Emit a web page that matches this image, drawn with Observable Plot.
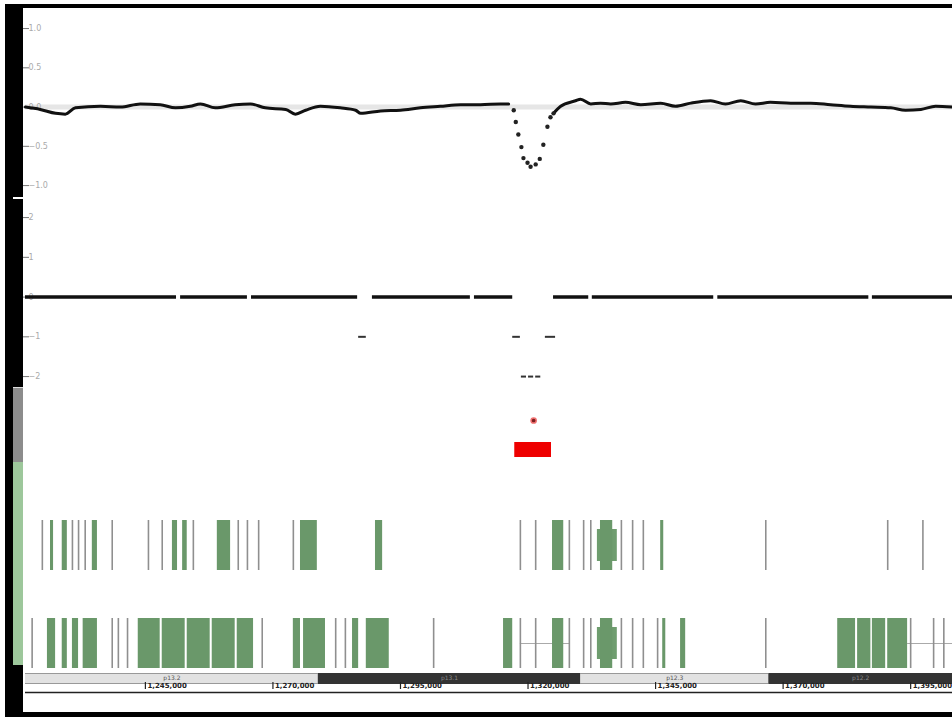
<!DOCTYPE html>
<html><head><meta charset="utf-8">
<script src="https://cdn.jsdelivr.net/npm/d3@7"></script>
<script src="https://cdn.jsdelivr.net/npm/@observablehq/plot@0.6"></script>
<style>
body{margin:0;background:#fff;}
#root{position:relative;width:952px;height:719px;overflow:hidden;background:#fff;font-family:"DejaVu Sans",sans-serif;}
#root svg{position:absolute;left:0;}
.deco{position:absolute;}
</style></head><body><div id="root"></div>
<script>
// ---- genomic window (kb) and axis ticks ----
const xDomain = [1221.5, 1403.2];
const axisTicks = [1245, 1270, 1295, 1320, 1345, 1370, 1395];

// ---- panel 1: log2 ratio (smoothed) ----
const ratioTicks = [1, 0.5, 0, -0.5, -1];
const ratioLeftPos = [1221.5,1224.4,1227.4,1229.3,1231.3,1236.2,1240.1,1244.0,1247.9,1250.9,1253.8,1255.8,1258.7,1262.6,1265.6,1268.5,1272.5,1274.4,1276.4,1279.3,1283.2,1286.2,1287.2,1291.1,1295.0,1298.9,1302.8,1306.8,1310.7,1314.6,1316.2];
const ratioLeftVal = [0,-0.03,-0.08,-0.09,-0.01,0.01,0,0.04,0.03,-0.01,0.01,0.04,-0.01,0.03,0.04,-0.01,-0.03,-0.09,-0.04,0.01,-0.01,-0.04,-0.08,-0.05,-0.04,-0.01,0.01,0.03,0.03,0.04,0.04];
const dipPos = [1317.2,1317.6,1318.1,1318.7,1319.1,1319.9,1320.5,1321.5,1322.3,1323.0,1323.8,1324.4,1325.0];
const dipVal = [-0.04,-0.19,-0.35,-0.51,-0.65,-0.71,-0.76,-0.73,-0.66,-0.48,-0.25,-0.13,-0.08];
const ratioRightPos = [1325.0,1326.4,1329.3,1330.3,1332.3,1334.2,1336.2,1339.1,1342.1,1346.0,1348.9,1351.9,1355.8,1358.7,1361.7,1364.6,1367.5,1371.5,1375.4,1379.3,1383.2,1387.2,1391.1,1394.0,1397.0,1399.9,1403.2];
const ratioRightVal = [-0.08,0.01,0.08,0.10,0.04,0.05,0.04,0.06,0.03,0.05,0.01,0.05,0.08,0.04,0.08,0.04,0.06,0.05,0.05,0.03,0.01,0,-0.01,-0.04,-0.03,0.01,0];

// ---- panel 2: segmented copy-number calls ----
const segTicks = [2, 1, 0, -1, -2];
const segStart = [1221.5,1251.9,1265.8,1289.5,1309.5,1325.0,1332.6,1357.2,1387.5, 1286.8,1317.0,1323.4, 1318.7,1320.1,1321.5];
const segEnd   = [1251.1,1265.0,1286.6,1308.7,1317.0,1331.9,1356.4,1386.8,1403.2, 1288.3,1318.5,1325.4, 1319.7,1321.1,1322.5];
const segLevel = [0,0,0,0,0,0,0,0,0, -1,-1,-1, -2,-2,-2];

// ---- panel 3: aberration call ----
const outlierPos = [1321.1];
const callStart = [1317.4];
const callEnd = [1324.6];

// ---- panel 4: gene models ----
const exonTrack = ["t1","t1","t1","t1","t1","t1","t1","t1","t1","t1","t1","t1",
  "t2","t2","t2","t2","t2","t2","t2","t2","t2","t2","t2","t2","t2","t2","t2","t2","t2","t2","t2","t2","t2","t2","t2"];
const exonStart = [1226.4,1228.7,1234.6,1250.3,1252.3,1259.1,1275.4,1290.1,1324.8,1333.6,1334.2,1346.0,
  1225.8,1228.7,1230.7,1232.8,1243.6,1248.3,1253.2,1258.1,1263.0,1274.0,1276.0,1285.6,1288.3,1315.2,1324.8,1333.6,1334.2,1346.4,1349.9,1380.7,1384.6,1387.5,1390.5];
const exonEnd = [1227.0,1229.7,1235.6,1251.3,1253.2,1261.7,1278.7,1291.5,1327.0,1337.5,1336.6,1346.6,
  1227.4,1229.7,1231.9,1235.6,1247.9,1252.8,1257.7,1262.6,1266.2,1275.4,1280.3,1286.8,1292.8,1317.0,1327.0,1337.5,1336.6,1347.0,1350.9,1384.2,1387.2,1390.1,1394.4];
const exonKind = ["cds","cds","cds","cds","cds","cds","cds","cds","cds","utr","cds","cds",
  "cds","cds","cds","cds","cds","cds","cds","cds","cds","cds","cds","cds","cds","cds","cds","utr","cds","cds","cds","cds","cds","cds","cds"];
const lineTrack1 = [1224.8,1230.7,1231.9,1233.2,1238.5,1245.6,1248.3,1254.4,1263.2,1265.0,1267.2,1274.0,1318.5,1321.5,1328.1,1330.9,1332.3,1338.3,1340.5,1342.6,1366.6,1390.5,1397.4];
const lineTrack2 = [1222.8,1238.5,1239.7,1241.5,1267.9,1282.3,1284.2,1301.5,1318.5,1321.5,1328.1,1330.9,1332.3,1338.3,1340.5,1342.6,1345.4,1366.6,1395.0,1399.5,1401.5];
const intronStart = [1318.5, 1394.4];
const intronEnd = [1328.3, 1403.2];

// ---- panel 5: ideogram bands ----
const bandStart = [1221.5, 1278.9, 1330.3, 1367.2];
const bandEnd   = [1278.9, 1330.3, 1367.2, 1403.2];
const bandName  = ["p13.2", "p13.1", "p12.3", "p12.2"];
const bandStain = ["light", "dark", "light", "dark"];

// ---- build tables ----
const ratioLeft = ratioLeftPos.map((p,i)=>({pos:p, val:ratioLeftVal[i]}));
const ratioRight = ratioRightPos.map((p,i)=>({pos:p, val:ratioRightVal[i]}));
const dip = dipPos.map((p,i)=>({pos:p, val:dipVal[i]}));
const segs = segStart.map((s,i)=>({start:s, end:segEnd[i], level:segLevel[i]}));
const calls = callStart.map((s,i)=>({start:s, end:callEnd[i], row:"call"}));
const outliers = outlierPos.map(p=>({pos:p, row:"probe"}));
const exons = exonStart.map((s,i)=>({start:s, end:exonEnd[i], track:exonTrack[i], kind:exonKind[i]}));
const glines = lineTrack1.map(p=>({pos:p, track:"t1"})).concat(lineTrack2.map(p=>({pos:p, track:"t2"})));
const introns = intronStart.map((s,i)=>({start:s, end:intronEnd[i], track:"t2"}));
const bands = bandStart.map((s,i)=>({start:s, end:bandEnd[i], name:bandName[i], stain:bandStain[i]}));

const W = 952;
const root = document.getElementById("root");
const xOpt = {domain: xDomain, range: [25, W], axis: null};
const base = {width: W, marginLeft: 25, marginRight: 0, marginTop: 0, marginBottom: 0,
  style: {background: "transparent", overflow: "visible", fontFamily: "DejaVu Sans, sans-serif"}};
function place(svg, top){ svg.style.top = top + "px"; root.appendChild(svg); }
function yAxes(ticks){
  return [
    Plot.axisY(ticks, {anchor: "left", tickSize: 6, dx: 4, tickFormat: () => "", stroke: "#777", label: null}),
    Plot.axisY(ticks, {anchor: "left", tickSize: 0, dx: 12, textAnchor: "start", fill: "#aaa", fontSize: 8, label: null})
  ];
}

// panel 1
place(Plot.plot({...base, height: 190,
  x: xOpt, y: {domain: [-1.19, 1.23], axis: null},
  marks: [
    Plot.ruleY([0], {stroke: "#e6e6e6", strokeWidth: 5}),
    ...yAxes(ratioTicks),
    Plot.line(ratioLeft, {x: "pos", y: "val", stroke: "#111", strokeWidth: 3, curve: "monotone-x"}),
    Plot.line(ratioRight, {x: "pos", y: "val", stroke: "#111", strokeWidth: 3, curve: "monotone-x"}),
    Plot.dot(dip, {x: "pos", y: "val", r: 2.2, fill: "#222"})
  ]}), 10);

// panel 2
place(Plot.plot({...base, height: 188,
  x: xOpt, y: {domain: [-2.30, 2.43], axis: null},
  marks: [
    ...yAxes(segTicks),
    Plot.ruleY(segs.filter(d => d.level === 0), {x1: "start", x2: "end", y: "level", stroke: "#111", strokeWidth: 3.5}),
    Plot.ruleY(segs.filter(d => d.level !== 0), {x1: "start", x2: "end", y: "level", stroke: "#333", strokeWidth: 2})
  ]}), 200);

// panel 3
place(Plot.plot({...base, height: 77,
  x: xOpt, y: {type: "point", domain: ["probe", "call"], range: [32, 61], padding: 0, axis: null},
  marks: [
    Plot.dot(outliers, {x: "pos", y: "row", r: 2.6, fill: "#7a1f1f", stroke: "#f07070", strokeWidth: 1.5}),
    Plot.ruleY(calls, {x1: "start", x2: "end", y: "row", stroke: "#ee0000", strokeWidth: 15})
  ]}), 388);

// panel 4
place(Plot.plot({...base, height: 205,
  x: xOpt, y: {type: "band", domain: ["t1", "t2"], range: [55, 203], paddingInner: 0.49, paddingOuter: 0, axis: null},
  marks: [
    Plot.ruleY(introns, {x1: "start", x2: "end", y: "track", stroke: "#aaa", strokeWidth: 1}),
    Plot.tickX(glines, {x: "pos", y: "track", stroke: "#8f8f8f", strokeWidth: 1.6}),
    Plot.barX(exons.filter(d => d.kind === "utr"), {x1: "start", x2: "end", y: "track", fill: "#6f9d6f", insetTop: 9, insetBottom: 9}),
    Plot.barX(exons.filter(d => d.kind === "cds"), {x1: "start", x2: "end", y: "track", fill: "#6a986a"})
  ]}), 465);

// panel 5: ideogram + coordinate axis
const fmt = d3.format(",");
place(Plot.plot({...base, height: 45,
  x: xOpt, y: {type: "point", domain: ["ideo", "label", "axis"], range: [7.5, 22, 28], padding: 0, axis: null},
  marks: [
    Plot.ruleY(bands.filter(d => d.stain === "light"), {x1: "start", x2: "end", y: () => "ideo", stroke: "#999", strokeWidth: 11}),
    Plot.ruleY(bands.filter(d => d.stain === "light"), {x1: "start", x2: "end", y: () => "ideo", stroke: "#e2e2e2", strokeWidth: 9}),
    Plot.ruleY(bands.filter(d => d.stain === "dark"), {x1: "start", x2: "end", y: () => "ideo", stroke: "#333", strokeWidth: 11}),
    Plot.text(bands, {x: d => (d.start + d.end) / 2, y: () => "ideo", text: "name", fontSize: 6,
      fill: d => d.stain === "dark" ? "#888" : "#555"}),
    Plot.ruleY(["axis"], {y: d => d, stroke: "#222", strokeWidth: 1.5}),
    Plot.ruleX(axisTicks, {x: d => d, y1: () => "label", y2: () => "axis", dy: -3, stroke: "#222", strokeWidth: 1.2}),
    Plot.text(axisTicks, {x: d => d, y: () => "label", text: d => fmt(d * 1000), textAnchor: "start", dx: 2,
      fontSize: 7, fontWeight: "bold", fill: "#222"})
  ]}), 670);

// frame decorations
function deco(l, t, w, h, c){ const d = document.createElement("div"); d.className = "deco";
  Object.assign(d.style, {left: l + "px", top: t + "px", width: w + "px", height: h + "px", background: c}); root.appendChild(d); }
deco(5, 4, 947, 4, "#000");
deco(5, 4, 8, 713, "#000");
deco(13, 4, 10, 383, "#000");
deco(13, 197, 10, 2, "#fff");
deco(13, 387, 10, 1, "#ddd");
deco(13, 388, 10, 74, "#8c8c8c");
deco(13, 462, 10, 203, "#9dc79b");
deco(13, 665, 10, 52, "#000");
deco(5, 712, 947, 5, "#000");
</script></body></html>
